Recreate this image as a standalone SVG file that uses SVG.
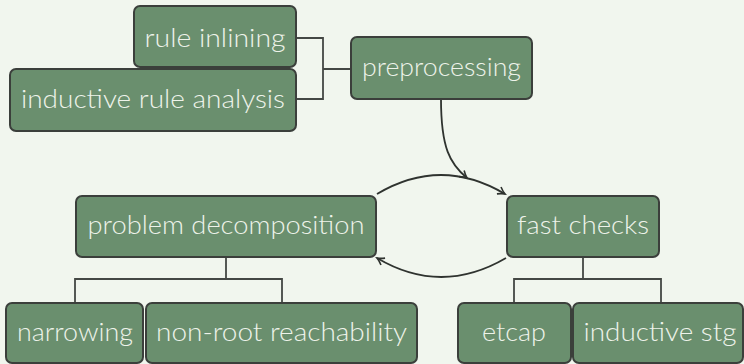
<svg xmlns="http://www.w3.org/2000/svg" width="744" height="364" viewBox="0 0 744 364">
<defs>
<style>
.n rect{fill:#6a8f6e;stroke:#3b3f3b;stroke-width:2}
.n text{font-family:Lato,"DejaVu Sans",sans-serif;font-weight:300;font-size:26px;fill:#eef3ea;text-anchor:middle}
.t{fill:none;stroke:#444844;stroke-width:1.8}
.a{fill:none;stroke:#2f332f;stroke-width:1.8;marker-end:url(#ah)}
</style>
<marker id="ah" viewBox="0 0 10 10" refX="8" refY="5" markerWidth="10" markerHeight="10" markerUnits="userSpaceOnUse" orient="auto">
<path d="M1,1 Q5,4 8,5 Q5,6 1,9" fill="none" stroke="#2f332f" stroke-width="1.6"/>
</marker>
</defs>
<rect width="744" height="364" fill="#f1f6ee"/>
<g id="connectors">
<path class="t" d="M296,38 H323 V99 H296 M323,69 H351"/>
<path class="t" d="M226,257 V279 M75,303 V279 H282 V303"/>
<path class="t" d="M583,257 V279 M514,303 V279 H661 V303"/>
<path class="a" d="M441,99 C441,148 450,164 467,178"/>
<path class="a" d="M377,194 Q441,156 505,194"/>
<path class="a" d="M506,258 Q441,296 377,258"/>
</g>
<g id="rule-inlining" class="n"><rect x="134" y="6" width="162" height="61" rx="6"/><text x="215" y="47" textLength="141" lengthAdjust="spacingAndGlyphs">rule inlining</text></g>
<g id="inductive-rule-analysis" class="n"><rect x="10" y="69" width="286" height="62" rx="6"/><text x="153" y="108" textLength="264" lengthAdjust="spacingAndGlyphs">inductive rule analysis</text></g>
<g id="preprocessing" class="n"><rect x="351" y="37" width="181" height="62" rx="6"/><text x="441.5" y="76" textLength="159" lengthAdjust="spacingAndGlyphs">preprocessing</text></g>
<g id="problem-decomposition" class="n"><rect x="76" y="196" width="300" height="61" rx="6"/><text x="226" y="234" textLength="277" lengthAdjust="spacingAndGlyphs">problem decomposition</text></g>
<g id="fast-checks" class="n"><rect x="507" y="196" width="152" height="61" rx="6"/><text x="583" y="234" textLength="132" lengthAdjust="spacingAndGlyphs">fast checks</text></g>
<g id="narrowing" class="n"><rect x="6" y="303" width="137" height="60" rx="6"/><text x="75" y="341" textLength="116" lengthAdjust="spacingAndGlyphs">narrowing</text></g>
<g id="non-root-reachability" class="n"><rect x="146" y="303" width="271" height="60" rx="6"/><text x="281.5" y="341" textLength="251" lengthAdjust="spacingAndGlyphs">non-root reachability</text></g>
<g id="etcap" class="n"><rect x="458" y="303" width="113" height="60" rx="6"/><text x="514" y="341" textLength="64" lengthAdjust="spacingAndGlyphs">etcap</text></g>
<g id="inductive-stg" class="n"><rect x="573" y="303" width="170" height="60" rx="6"/><text x="660" y="341" textLength="153" lengthAdjust="spacingAndGlyphs">inductive stg</text></g>
</svg>
